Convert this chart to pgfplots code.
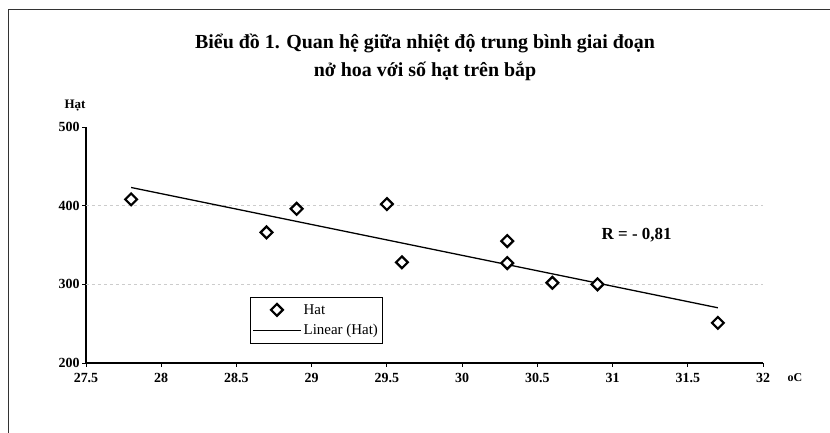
\documentclass[border=0pt]{standalone}
\usepackage{fontspec}
\setmainfont{Liberation Serif}
\usepackage{pgfplots}
\pgfplotsset{compat=1.18}
\pgfplotsset{
  marklegend/.style={legend image code/.code={\draw[##1, mark repeat=2, mark phase=2] plot coordinates {(0cm,0cm) (0.85cm,0cm) (1.7cm,0cm)};}},
  linelegend/.style={legend image code/.code={\draw[##1] (0cm,0cm) -- (1.7cm,0cm);}},
}

\begin{document}
\begin{tikzpicture}
% canvas 830x433, axis lower left at pixel (86,363)
\path[use as bounding box] (-86bp,-70bp) rectangle (744bp,363bp);
\draw[line width=1pt, black!80] (-78bp,-70bp) -- (-78bp,353bp) -- (744bp,353bp);
\node[font=\fontsize{20}{28}\selectfont\bfseries, align=center] at (339bp,306bp)
  {Biểu đồ 1. Quan hệ giữa nhiệt độ trung bình giai đoạn\\nở hoa với số hạt trên bắp};
\begin{axis}[
  at={(0,0)}, anchor=origin,
  scale only axis, width=677bp, height=236bp,
  xmin=27.5, xmax=32, ymin=200, ymax=500,
  xtick={27.5,28,...,32}, ytick={200,300,400,500},
  axis lines*=left, axis line style={line width=1.1pt},
  tick align=outside, major tick length=4pt,
  tick style={black, line width=0.9pt},
  /pgf/number format/assume math mode=true,
  /pgf/number format/.cd, fixed, 1000 sep={}, /pgfplots/.cd,
  tick label style={font=\fontsize{14}{14}\selectfont\bfseries},
  xticklabel style={yshift=-3pt},
  yticklabel style={xshift=1pt},
  legend style={at={(0.242,0.28)}, anchor=north west, draw=black, line width=0.7pt,
    font=\fontsize{15}{16}\selectfont, row sep=5pt, inner xsep=2pt, inner ysep=5pt,
    nodes={inner sep=2pt}},
  legend cell align=left,
  clip=false,
]
\draw[gray!40, dashed, line width=0.7pt] (axis cs:27.5,300) -- (axis cs:32,300);
\draw[gray!40, dashed, line width=0.7pt] (axis cs:27.5,400) -- (axis cs:32,400);
\addplot[only marks, mark=square*, mark size=4.2pt,
  mark options={rotate=45, fill=white, draw=black, line width=2.2pt}, marklegend]
  coordinates {(27.8,408) (28.7,366) (28.9,396) (29.5,402) (29.6,328)
               (30.3,355) (30.3,327) (30.6,302) (30.9,300) (31.7,251)};
\addlegendentry{Hat}
\addplot[black, line width=1.3pt, no marks, linelegend]
  coordinates {(27.8,423.1) (31.7,270.2)};
\addlegendentry{Linear (Hat)}
\node[font=\fontsize{17}{18}\selectfont\bfseries] at (axis cs:31.16,363) {R = - 0,81};
\end{axis}
\node[font=\fontsize{13}{14}\selectfont\bfseries] at (-11bp,257bp) {Hạt};
\node[font=\fontsize{12}{12}\selectfont\bfseries] at (709bp,-15bp) {oC};
\end{tikzpicture}
\end{document}
